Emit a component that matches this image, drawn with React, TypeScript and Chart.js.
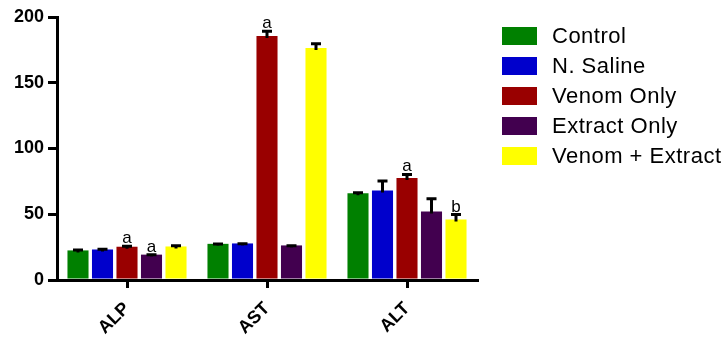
import React, { useEffect, useRef } from "react";
import { Chart, registerables } from "chart.js";

Chart.register(...registerables);

// Liver enzyme panels
const categories = ["ALP", "AST", "ALT"];

// Treatment groups and their colours
const groupNames = ["Control", "N. Saline", "Venom Only", "Extract Only", "Venom + Extract"];
const groupColors = ["#008000", "#0000CC", "#990000", "#42004F", "#FFFF00"];

// Means per enzyme (ALP, AST, ALT)
const controlMeans = [22.5, 27.5, 66];
const salineMeans = [23.2, 27.8, 68];
const venomMeans = [25.3, 185.5, 77.5];
const extractMeans = [19.3, 26.3, 52];
const comboMeans = [25.5, 176.5, 46];

// SEM per enzyme
const controlSem = [1, 0.6, 1.2];
const salineSem = [1, 0.6, 8];
const venomSem = [1.2, 4.5, 3.5];
const extractSem = [0.6, 0.6, 10.5];
const comboSem = [1.3, 4, 4.5];

// Significance letters per enzyme
const controlLetters = ["", "", ""];
const salineLetters = ["", "", ""];
const venomLetters = ["a", "a", "a"];
const extractLetters = ["a", "", ""];
const comboLetters = ["", "", "b"];

const yTicks = [0, 50, 100, 150, 200];

const means = [controlMeans, salineMeans, venomMeans, extractMeans, comboMeans];
const sems = [controlSem, salineSem, venomSem, extractSem, comboSem];
const letters = [controlLetters, salineLetters, venomLetters, extractLetters, comboLetters];

const FONT = "'Liberation Sans', Arial, sans-serif";

const errorBarPlugin = {
  id: "errorBars",
  afterDatasetsDraw(chart: any) {
    const ctx = chart.ctx;
    const yScale = chart.scales.y;
    ctx.save();
    chart.data.datasets.forEach((ds: any, i: number) => {
      const meta = chart.getDatasetMeta(i);
      meta.data.forEach((bar: any, j: number) => {
        const v = ds.data[j];
        const top = yScale.getPixelForValue(v + ds.sem[j]);
        const base = yScale.getPixelForValue(v) + 2;
        ctx.strokeStyle = "#000";
        ctx.lineWidth = 3;
        ctx.beginPath();
        ctx.moveTo(bar.x, base);
        ctx.lineTo(bar.x, top);
        ctx.moveTo(bar.x - 5, top + 1);
        ctx.lineTo(bar.x + 5, top + 1);
        ctx.stroke();
        const letter = ds.letters[j];
        if (letter) {
          ctx.fillStyle = "#000";
          ctx.font = `17px ${FONT}`;
          ctx.textAlign = "center";
          ctx.textBaseline = "alphabetic";
          ctx.fillText(letter, bar.x, top - 2);
        }
      });
    });
    ctx.restore();
  },
};

const legendPlugin = {
  id: "sideLegend",
  afterDraw(chart: any) {
    const ctx = chart.ctx;
    const left = chart.chartArea.right + 25;
    ctx.save();
    chart.data.datasets.forEach((ds: any, i: number) => {
      const cy = 36 + i * 30;
      ctx.fillStyle = ds.backgroundColor;
      ctx.fillRect(left, cy - 9, 35, 18);
      ctx.fillStyle = "#000";
      ctx.font = `22px ${FONT}`;
      (ctx as any).letterSpacing = "0.5px";
      ctx.textAlign = "left";
      ctx.textBaseline = "middle";
      ctx.fillText(ds.label, left + 50, cy + 1);
    });
    ctx.restore();
  },
};

export default function App() {
  const canvasRef = useRef<HTMLCanvasElement | null>(null);

  useEffect(() => {
    const canvas = canvasRef.current;
    if (!canvas) return;
    const chart = new Chart(canvas, {
      type: "bar",
      data: {
        labels: categories,
        datasets: groupNames.map((name, i) => ({
          label: name,
          data: means[i],
          sem: sems[i],
          letters: letters[i],
          backgroundColor: groupColors[i],
          borderWidth: 0,
          categoryPercentage: 0.875,
          barPercentage: 0.86,
        })) as any,
      },
      options: {
        responsive: false,
        animation: false,
        layout: { padding: { top: 17, right: 246, left: 0, bottom: 0 } },
        plugins: { legend: { display: false }, tooltip: { enabled: false } },
        scales: {
          x: {
            z: 1,
            border: { display: true, color: "#000", width: 3 },
            grid: {
              offset: false,
              drawOnChartArea: false,
              drawTicks: true,
              tickLength: 8,
              lineWidth: 3,
              color: "#000",
            },
            ticks: {
              autoSkip: false,
              maxRotation: 45,
              minRotation: 45,
              color: "#000",
              font: { family: FONT, size: 18, weight: "bold" },
              padding: 10,
            },
            afterFit(scale: any) {
              scale.height = 58;
            },
          },
          y: {
            z: 1,
            min: 0,
            max: 200,
            border: { display: true, color: "#000", width: 3 },
            grid: {
              drawOnChartArea: false,
              drawTicks: true,
              tickLength: 9,
              lineWidth: 3,
              color: "#000",
            },
            afterBuildTicks(scale: any) {
              scale.ticks = yTicks.map((v) => ({ value: v }));
            },
            ticks: {
              color: "#000",
              font: { family: FONT, size: 18, weight: "bold" },
              padding: 4,
            },
            afterFit(scale: any) {
              scale.width = 57;
            },
          },
        },
      } as any,
      plugins: [errorBarPlugin, legendPlugin],
    });
    return () => chart.destroy();
  }, []);

  return (
    <div style={{ position: "fixed", left: 0, top: 0, width: 723, height: 338, background: "#fff" }}>
      <canvas ref={canvasRef} width={723} height={338} style={{ display: "block" }} />
    </div>
  );
}
